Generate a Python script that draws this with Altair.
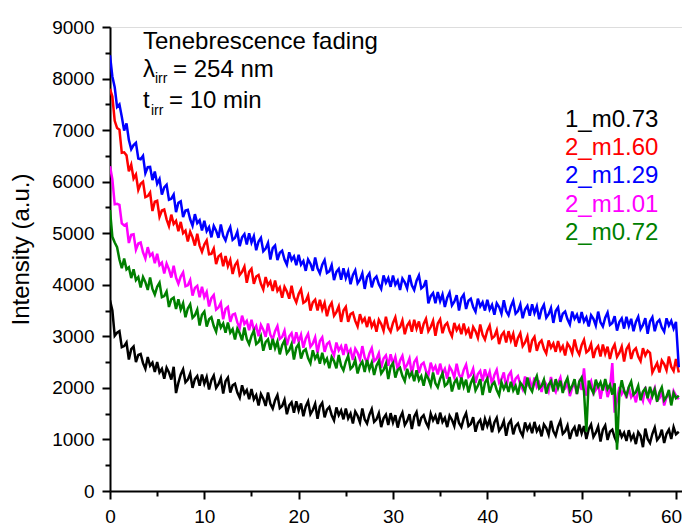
import altair as alt
import pandas as pd

# Time axis (min), one row = 2.5 min
TIME = [0.0, 0.25, 0.5, 0.75, 1.0, 1.25, 1.5, 1.75, 2.0, 2.25,
        2.5, 2.75, 3.0, 3.25, 3.5, 3.75, 4.0, 4.25, 4.5, 4.75,
        5.0, 5.25, 5.5, 5.75, 6.0, 6.25, 6.5, 6.75, 7.0, 7.25,
        7.5, 7.75, 8.0, 8.25, 8.5, 8.75, 9.0, 9.25, 9.5, 9.75,
        10.0, 10.25, 10.5, 10.75, 11.0, 11.25, 11.5, 11.75, 12.0, 12.25,
        12.5, 12.75, 13.0, 13.25, 13.5, 13.75, 14.0, 14.25, 14.5, 14.75,
        15.0, 15.25, 15.5, 15.75, 16.0, 16.25, 16.5, 16.75, 17.0, 17.25,
        17.5, 17.75, 18.0, 18.25, 18.5, 18.75, 19.0, 19.25, 19.5, 19.75,
        20.0, 20.25, 20.5, 20.75, 21.0, 21.25, 21.5, 21.75, 22.0, 22.25,
        22.5, 22.75, 23.0, 23.25, 23.5, 23.75, 24.0, 24.25, 24.5, 24.75,
        25.0, 25.25, 25.5, 25.75, 26.0, 26.25, 26.5, 26.75, 27.0, 27.25,
        27.5, 27.75, 28.0, 28.25, 28.5, 28.75, 29.0, 29.25, 29.5, 29.75,
        30.0, 30.25, 30.5, 30.75, 31.0, 31.25, 31.5, 31.75, 32.0, 32.25,
        32.5, 32.75, 33.0, 33.25, 33.5, 33.75, 34.0, 34.25, 34.5, 34.75,
        35.0, 35.25, 35.5, 35.75, 36.0, 36.25, 36.5, 36.75, 37.0, 37.25,
        37.5, 37.75, 38.0, 38.25, 38.5, 38.75, 39.0, 39.25, 39.5, 39.75,
        40.0, 40.25, 40.5, 40.75, 41.0, 41.25, 41.5, 41.75, 42.0, 42.25,
        42.5, 42.75, 43.0, 43.25, 43.5, 43.75, 44.0, 44.25, 44.5, 44.75,
        45.0, 45.25, 45.5, 45.75, 46.0, 46.25, 46.5, 46.75, 47.0, 47.25,
        47.5, 47.75, 48.0, 48.25, 48.5, 48.75, 49.0, 49.25, 49.5, 49.75,
        50.0, 50.25, 50.5, 50.75, 51.0, 51.25, 51.5, 51.75, 52.0, 52.25,
        52.5, 52.75, 53.0, 53.25, 53.5, 53.75, 54.0, 54.25, 54.5, 54.75,
        55.0, 55.25, 55.5, 55.75, 56.0, 56.25, 56.5, 56.75, 57.0, 57.25,
        57.5, 57.75, 58.0, 58.25, 58.5, 58.75, 59.0, 59.25, 59.5, 59.75,
        60.0, 60.3]

S_1_M073 = [3700, 3500, 3010, 3070, 3100, 2790, 2810, 2880, 2550, 2750,
            2800, 2500, 2640, 2660, 2480, 2370, 2600, 2430, 2490, 2310,
            2500, 2300, 2370, 2180, 2390, 2300, 2160, 2410, 1900, 2100,
            2260, 2360, 2110, 2160, 2280, 2000, 2170, 2230, 2040, 2260,
            2080, 2210, 1970, 2150, 2240, 2000, 2070, 2190, 1890, 2130,
            2200, 1910, 2050, 2080, 1910, 1810, 2050, 1890, 1960, 1780,
            1980, 1780, 1860, 1660, 1880, 1790, 1650, 1910, 1690, 1600,
            1760, 1860, 1610, 1650, 1770, 1490, 1660, 1720, 1520, 1740,
            1560, 1700, 1450, 1640, 1740, 1490, 1570, 1690, 1400, 1640,
            1710, 1430, 1580, 1630, 1470, 1370, 1620, 1470, 1560, 1390,
            1600, 1410, 1500, 1310, 1540, 1460, 1330, 1600, 1390, 1310,
            1480, 1590, 1340, 1390, 1510, 1240, 1410, 1480, 1280, 1510,
            1330, 1470, 1230, 1420, 1520, 1280, 1360, 1490, 1200, 1440,
            1530, 1260, 1420, 1470, 1330, 1240, 1500, 1370, 1460, 1300,
            1520, 1340, 1420, 1240, 1460, 1380, 1260, 1520, 1320, 1240,
            1410, 1510, 1260, 1300, 1430, 1150, 1320, 1380, 1180, 1400,
            1260, 1390, 1140, 1330, 1420, 1170, 1240, 1360, 1070, 1300,
            1370, 1100, 1260, 1310, 1160, 1070, 1330, 1190, 1280, 1120,
            1340, 1160, 1240, 1060, 1290, 1220, 1090, 1360, 1160, 1070,
            1250, 1360, 1110, 1160, 1270, 1010, 1170, 1240, 1060, 1290,
            1120, 1260, 1010, 1200, 1290, 1050, 1130, 1250, 960, 1190,
            1270, 990, 1150, 1190, 1040, 940, 1190, 1050, 1130, 970,
            1180, 1000, 1090, 910, 1140, 1070, 850, 1210, 1010, 930,
            1110, 1230, 990, 1050, 1190, 930, 1110, 1190, 1010, 1240,
            1100, 1150]

S_2_M160 = [7800, 7650, 7180, 7040, 7010, 6560, 6570, 6510, 6200, 6330,
            6060, 6140, 5840, 5960, 6000, 5700, 5720, 5790, 5430, 5610,
            5630, 5320, 5440, 5460, 5270, 5140, 5360, 5180, 5240, 5040,
            5220, 5000, 5050, 4840, 5030, 4920, 4760, 4990, 4760, 4640,
            4780, 4860, 4590, 4600, 4700, 4400, 4550, 4590, 4360, 4560,
            4360, 4480, 4210, 4380, 4450, 4190, 4250, 4350, 4040, 4250,
            4310, 4020, 4160, 4190, 4020, 3910, 4150, 3990, 4060, 3880,
            4080, 3880, 3950, 3750, 3960, 3870, 3730, 3980, 3760, 3660,
            3820, 3910, 3650, 3680, 3790, 3500, 3660, 3710, 3500, 3710,
            3520, 3650, 3390, 3570, 3650, 3400, 3470, 3580, 3280, 3500,
            3570, 3280, 3430, 3460, 3300, 3190, 3430, 3280, 3350, 3180,
            3380, 3190, 3280, 3090, 3320, 3240, 3110, 3380, 3170, 3090,
            3260, 3370, 3130, 3180, 3310, 3040, 3210, 3280, 3090, 3320,
            3150, 3290, 3050, 3240, 3340, 3100, 3180, 3300, 3010, 3250,
            3330, 3060, 3210, 3260, 3100, 3000, 3260, 3120, 3200, 3040,
            3250, 3060, 3140, 2960, 3180, 3100, 2970, 3230, 3030, 2940,
            3110, 3210, 2960, 3000, 3120, 2850, 3020, 3080, 2880, 3100,
            2920, 3050, 2800, 2970, 3060, 2810, 2880, 3000, 2690, 2920,
            2990, 2720, 2870, 2920, 2760, 2670, 2920, 2780, 2860, 2700,
            2910, 2730, 2810, 2630, 2860, 2790, 2670, 2940, 2740, 2650,
            2830, 2930, 2690, 2730, 2850, 2580, 2750, 2810, 2610, 2840,
            2660, 2800, 2560, 2750, 2840, 2600, 2680, 2800, 2510, 2750,
            2830, 2560, 2720, 2770, 2610, 2520, 2770, 2630, 2720, 2680,
            2300, 2390, 2480, 2300, 2530, 2460, 2340, 2610, 2410, 2330,
            2560, 2300]

S_2_M129 = [8450, 8040, 7830, 7450, 7500, 7260, 6990, 7130, 6810, 6630,
            6710, 6755, 6450, 6435, 6500, 6165, 6280, 6285, 6030, 6195,
            5960, 6050, 5750, 5890, 5940, 5650, 5670, 5750, 5410, 5590,
            5620, 5315, 5440, 5455, 5270, 5145, 5370, 5195, 5250, 5055,
            5240, 5040, 5120, 4920, 5140, 5050, 4910, 5170, 4950, 4860,
            5020, 5120, 4870, 4910, 5030, 4750, 4920, 4980, 4780, 5000,
            4820, 4940, 4670, 4840, 4910, 4650, 4700, 4810, 4490, 4710,
            4760, 4480, 4620, 4660, 4490, 4390, 4630, 4480, 4550, 4380,
            4580, 4390, 4460, 4270, 4490, 4410, 4270, 4530, 4320, 4220,
            4390, 4480, 4230, 4260, 4380, 4090, 4250, 4310, 4100, 4320,
            4130, 4260, 4010, 4190, 4280, 4030, 4100, 4220, 3920, 4150,
            4220, 3950, 4110, 4160, 4010, 3920, 4180, 4040, 4130, 3960,
            4180, 4000, 4080, 3900, 4120, 4050, 3930, 4190, 3990, 3900,
            4080, 4180, 3930, 3970, 4090, 3640, 3780, 3840, 3640, 3860,
            3680, 3810, 3570, 3750, 3850, 3600, 3670, 3800, 3500, 3740,
            3810, 3530, 3690, 3730, 3570, 3480, 3730, 3580, 3660, 3500,
            3710, 3520, 3610, 3420, 3640, 3570, 3440, 3700, 3490, 3410,
            3580, 3690, 3440, 3490, 3620, 3350, 3520, 3590, 3400, 3620,
            3450, 3580, 3330, 3520, 3610, 3360, 3430, 3550, 3260, 3490,
            3560, 3280, 3440, 3480, 3330, 3230, 3480, 3340, 3420, 3260,
            3470, 3290, 3370, 3190, 3410, 3340, 3210, 3480, 3270, 3190,
            3360, 3460, 3220, 3260, 3390, 3110, 3280, 3350, 3150, 3380,
            3200, 3340, 3100, 3280, 3380, 3140, 3220, 3350, 3050, 3290,
            3370, 3100, 3270, 3320, 3170, 3090, 3350, 3210, 3300, 3150,
            3280, 2400]

S_2_M101 = [6300, 6050, 5560, 5570, 5550, 5190, 5150, 5180, 4810, 4970,
            4980, 4680, 4800, 4820, 4630, 4510, 4730, 4560, 4610, 4420,
            4600, 4380, 4430, 4220, 4410, 4300, 4140, 4370, 4140, 4020,
            4160, 4240, 3970, 3990, 4090, 3790, 3940, 3980, 3760, 3960,
            3760, 3860, 3580, 3740, 3800, 3520, 3560, 3650, 3330, 3530,
            3570, 3280, 3420, 3440, 3270, 3160, 3400, 3240, 3300, 3120,
            3320, 3120, 3200, 3000, 3220, 3130, 2990, 3250, 3030, 2940,
            3100, 3200, 2950, 2990, 3110, 2830, 3000, 3060, 2860, 3080,
            2900, 3030, 2780, 2960, 3050, 2800, 2860, 2980, 2680, 2910,
            2980, 2700, 2850, 2890, 2730, 2630, 2880, 2730, 2810, 2640,
            2850, 2660, 2740, 2540, 2760, 2680, 2550, 2810, 2590, 2500,
            2670, 2770, 2520, 2560, 2670, 2390, 2570, 2630, 2430, 2650,
            2470, 2600, 2350, 2530, 2620, 2380, 2450, 2570, 2270, 2500,
            2570, 2290, 2450, 2490, 2330, 2240, 2490, 2340, 2420, 2260,
            2470, 2280, 2370, 2180, 2410, 2330, 2200, 2470, 2260, 2180,
            2350, 2450, 2210, 2250, 2370, 2100, 2270, 2330, 2130, 2360,
            2180, 2310, 2070, 2250, 2350, 2100, 2170, 2300, 2000, 2240,
            2310, 2030, 2180, 2230, 2070, 1970, 2220, 2070, 2160, 1990,
            2200, 2020, 2100, 1920, 2140, 2070, 1940, 2210, 2000, 1920,
            2090, 2200, 1950, 1990, 2110, 1840, 2010, 2080, 1880, 2100,
            1960, 2380, 1850, 2040, 2130, 1890, 1960, 2090, 1790, 2030,
            2100, 1820, 1980, 2480, 1520, 1770, 2020, 1880, 1960, 1800,
            2010, 1820, 1900, 1720, 1950, 1880, 1750, 2020, 1800, 1720,
            1890, 2000, 1760, 1800, 1930, 1660, 1820, 1890, 1700, 1940,
            1850, 1780]

S_2_M072 = [5450, 4930, 4820, 4730, 4490, 4320, 4510, 4300, 4340, 4130,
            4300, 4090, 4150, 3950, 4150, 4050, 3900, 4140, 3920, 3810,
            3960, 4040, 3760, 3780, 3870, 3570, 3720, 3750, 3530, 3720,
            3520, 3640, 3370, 3540, 3620, 3360, 3410, 3520, 3210, 3420,
            3480, 3190, 3330, 3370, 3200, 3090, 3330, 3170, 3250, 3070,
            3270, 3070, 3140, 2940, 3150, 3060, 2920, 3170, 2950, 2850,
            3010, 3110, 2850, 2890, 3000, 2720, 2890, 2940, 2740, 2950,
            2770, 2900, 2650, 2830, 2920, 2670, 2730, 2850, 2550, 2780,
            2850, 2570, 2710, 2750, 2580, 2480, 2730, 2570, 2650, 2470,
            2680, 2490, 2570, 2380, 2600, 2520, 2380, 2640, 2430, 2340,
            2510, 2620, 2370, 2420, 2540, 2280, 2440, 2510, 2310, 2540,
            2360, 2490, 2250, 2430, 2520, 2280, 2350, 2470, 2170, 2410,
            2480, 2200, 2350, 2390, 2230, 2130, 2370, 2220, 2300, 2130,
            2340, 2150, 2230, 2040, 2260, 2180, 2050, 2300, 2090, 2010,
            2180, 2280, 2040, 2080, 2210, 1930, 2100, 2170, 1970, 2200,
            2020, 2160, 1910, 2090, 2200, 1950, 2040, 2170, 1860, 2100,
            2180, 1910, 2060, 2110, 1960, 1860, 2110, 1980, 2080, 1920,
            2120, 1950, 2040, 1870, 2100, 2040, 1930, 2200, 2010, 1930,
            2120, 2230, 1990, 2040, 2160, 1890, 2060, 2130, 1930, 2170,
            2000, 2140, 1900, 2090, 2190, 1950, 2040, 2170, 1880, 2120,
            2200, 1930, 1150, 2140, 1990, 1900, 2160, 2020, 2110, 1950,
            2170, 1980, 2060, 1870, 2090, 800, 1890, 2150, 1940, 1850,
            2020, 2120, 1870, 1920, 2040, 1760, 1930, 1990, 1800, 2020,
            1840, 1970, 1730, 1910, 2010, 1760, 1830, 1960, 1660, 1900,
            1800, 1850]

SERIES = ["1_m0.73", "2_m1.60", "2_m1.29", "2_m1.01", "2_m0.72"]
VALUES = [S_1_M073, S_2_M160, S_2_M129, S_2_M101, S_2_M072]
COLORS = ["#000000", "#ff0000", "#0000ff", "#ff00ff", "#008000"]

X_TICKS = [0, 5, 10, 15, 20, 25, 30, 35, 40, 45, 50, 55, 60]
Y_TICKS = [0, 500, 1000, 1500, 2000, 2500, 3000, 3500, 4000, 4500,
           5000, 5500, 6000, 6500, 7000, 7500, 8000, 8500, 9000]

FONT = "Liberation Sans"

x_axis = alt.Axis(
    values=X_TICKS, format="d",
    labelExpr="datum.value % 10 === 0 ? datum.label : ''",
    tickSize={"condition": {"test": "datum.value % 10 === 0", "value": 8}, "value": 5},
    labelOffset={"condition": {"test": "datum.value === 60", "value": -5}, "value": 0},
    title=None, grid=False, domainColor="black", domainWidth=2,
    tickColor="black", tickWidth=2, labelFontSize=19, labelColor="black",
    labelPadding=8, labelFlush=False, labelOverlap=False, labelFont=FONT,
)
y_axis = alt.Axis(
    values=Y_TICKS, format="d",
    labelExpr="datum.value % 1000 === 0 ? datum.label : ''",
    tickSize={"condition": {"test": "datum.value % 1000 === 0", "value": 8}, "value": 5},
    title="Intensity (a.u.)", titleFontSize=24, titleFontWeight="normal",
    titleFont=FONT, titleColor="black", titleX=-82, titleY=222,
    titleAngle=270, titleAlign="center", titleBaseline="alphabetic",
    grid=False, domainColor="black", domainWidth=2,
    tickColor="black", tickWidth=2, labelFontSize=19, labelColor="black",
    labelPadding=8, labelOverlap=False, labelFont=FONT,
)

x_scale = alt.Scale(domain=[0, 60.64], nice=False, zero=False)
y_scale = alt.Scale(domain=[0, 9000], nice=False)

layers = []
for name, vals, col in zip(SERIES, VALUES, COLORS):
    df = pd.DataFrame({"t": TIME, "v": vals, "s": name})
    layers.append(
        alt.Chart(df).mark_line(color=col, strokeWidth=2.5, clip=True).encode(
            x=alt.X("t:Q", scale=x_scale, axis=x_axis),
            y=alt.Y("v:Q", scale=y_scale, axis=y_axis),
        )
    )

anchor = pd.DataFrame({"a": [0]})


def label(text, x, y, size, color="black"):
    return alt.Chart(anchor).mark_text(
        text=text, align="left", baseline="alphabetic", fontSize=size,
        font=FONT, color=color,
    ).encode(x=alt.value(x), y=alt.value(y))


# annotation (positions relative to plot area)
ann = [
    label("Tenebrescence fading", 33, 22, 24),
    label("λ", 33, 50, 24),
    label("irr", 45, 56, 14),
    label("= 254 nm", 63, 50, 24),
    label("t", 33, 81, 24),
    label("irr", 41, 88, 14),
    label("= 10 min", 59, 81, 24),
]

legend_y = [100, 128, 156, 185, 213]
leg = [label(n, 455, yy, 24, c) for n, yy, c in zip(SERIES, legend_y, COLORS)]

chart = alt.layer(*layers, *ann, *leg).properties(
    width=572, height=464,
    autosize=alt.AutoSizeParams(type="none"),
    padding={"left": 102, "top": 19, "right": 0, "bottom": 34},
).configure_view(stroke=None).configure(font=FONT)

chart.save("out.html", embed_options={"renderer": "svg", "actions": False})
